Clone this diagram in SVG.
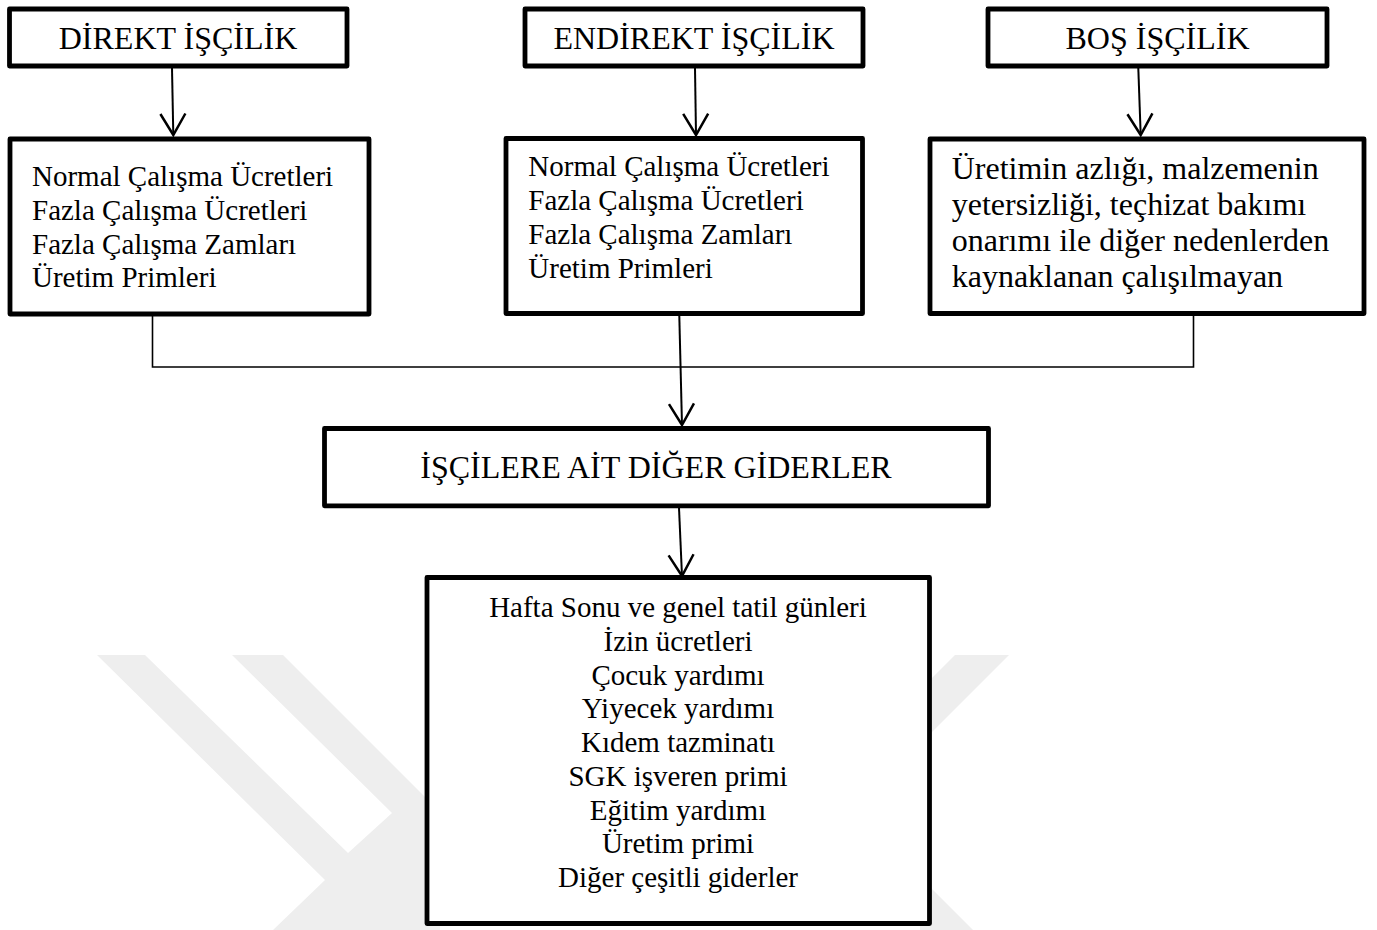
<svg xmlns="http://www.w3.org/2000/svg" width="1377" height="930" viewBox="0 0 1377 930">
<style>
.box{fill:#fff;stroke:#000;stroke-width:4.8;stroke-linejoin:round}
.t{font-family:"Liberation Serif","Times New Roman",serif;fill:#000}
.h{font-size:32px;text-anchor:middle}
.s{font-size:29px}
.b{font-size:32px}
.c{font-size:29px;text-anchor:middle}
.conn{fill:none;stroke:#000;stroke-width:2}
.bus{fill:none;stroke:#000;stroke-width:1.6}
.wm{fill:#eeeeee}
</style>
<defs>
<marker id="arr" markerUnits="userSpaceOnUse" markerWidth="30" markerHeight="30" viewBox="-20 -12 22 24" refX="0" refY="0" orient="auto">
<path d="M-17,-10 L0,0 L-17,10" fill="none" stroke="#000" stroke-width="2"/>
</marker>
</defs>
<rect width="1377" height="930" fill="#fff"/>
<g id="watermark">
<polygon class="wm" points="97,655 145,655 348,853 392,813 232,655 283,655 440,812 440,930 273,930 325,880"/>
<polygon class="wm" points="955,655 1009,655 920,744 920,690"/>
<polygon class="wm" points="920,877 973,930 920,930"/>
</g>
<g id="connectors">
<line class="conn" x1="172" y1="68" x2="173.3" y2="135" marker-end="url(#arr)"/>
<line class="conn" x1="695" y1="68" x2="696" y2="135" marker-end="url(#arr)"/>
<line class="conn" x1="1138.3" y1="68" x2="1140.7" y2="135" marker-end="url(#arr)"/>
<polyline class="bus" points="152.5,316 152.5,367 1193.5,367 1193.5,316"/>
<line class="conn" x1="679.3" y1="316" x2="682" y2="425" marker-end="url(#arr)"/>
<line class="conn" x1="679" y1="508" x2="682" y2="576" marker-end="url(#arr)"/>
</g>
<g id="direkt">
<rect class="box" x="9.5" y="9" width="337.5" height="57"/>
<text class="t h" x="178" y="49">DİREKT İŞÇİLİK</text>
</g>
<g id="endirekt">
<rect class="box" x="525" y="9" width="338" height="57"/>
<text class="t h" x="694" y="49">ENDİREKT İŞÇİLİK</text>
</g>
<g id="bos">
<rect class="box" x="988" y="9" width="339" height="57"/>
<text class="t h" x="1157.5" y="49">BOŞ İŞÇİLİK</text>
</g>
<g id="direkt-detay">
<rect class="box" x="10" y="139" width="359" height="175"/>
<text class="t s" x="32" y="186">Normal Çalışma Ücretleri</text>
<text class="t s" x="32" y="220">Fazla Çalışma Ücretleri</text>
<text class="t s" x="32" y="253.5">Fazla Çalışma Zamları</text>
<text class="t s" x="32" y="287">Üretim Primleri</text>
</g>
<g id="endirekt-detay">
<rect class="box" x="506" y="138.5" width="356.5" height="175"/>
<text class="t s" x="528.3" y="176">Normal Çalışma Ücretleri</text>
<text class="t s" x="528.3" y="210">Fazla Çalışma Ücretleri</text>
<text class="t s" x="528.3" y="244">Fazla Çalışma Zamları</text>
<text class="t s" x="528.3" y="278">Üretim Primleri</text>
</g>
<g id="bos-detay">
<rect class="box" x="930" y="139" width="434" height="174.5"/>
<text class="t b" x="951.7" y="179">Üretimin azlığı, malzemenin</text>
<text class="t b" x="951.7" y="215">yetersizliği, teçhizat bakımı</text>
<text class="t b" x="951.7" y="251">onarımı ile diğer nedenlerden</text>
<text class="t b" x="951.7" y="287">kaynaklanan çalışılmayan</text>
</g>
<g id="diger-giderler">
<rect class="box" x="324.5" y="428.5" width="664" height="77.3"/>
<text class="t h" x="656" y="478">İŞÇİLERE AİT DİĞER GİDERLER</text>
</g>
<g id="giderler-liste">
<rect class="box" x="427" y="577.5" width="502.5" height="346"/>
<text class="t c" x="678" y="617">Hafta Sonu ve genel tatil günleri</text>
<text class="t c" x="678" y="650.75">İzin ücretleri</text>
<text class="t c" x="678" y="684.5">Çocuk yardımı</text>
<text class="t c" x="678" y="718.25">Yiyecek yardımı</text>
<text class="t c" x="678" y="752">Kıdem tazminatı</text>
<text class="t c" x="678" y="785.75">SGK işveren primi</text>
<text class="t c" x="678" y="819.5">Eğitim yardımı</text>
<text class="t c" x="678" y="853.25">Üretim primi</text>
<text class="t c" x="678" y="887">Diğer çeşitli giderler</text>
</g>
</svg>
